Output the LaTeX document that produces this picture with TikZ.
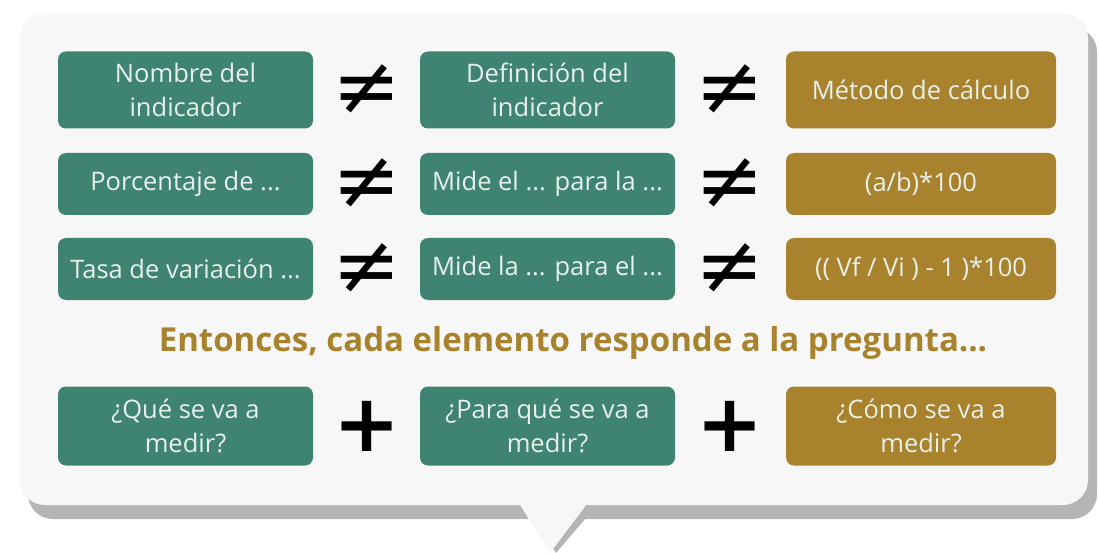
\documentclass[tikz,border=0pt]{standalone}
\usepackage{fontspec}
\setmainfont{Open Sans}
\newfontfamily\simbolos{DejaVu Sans}

\definecolor{verde}{HTML}{3F8373}
\definecolor{ocre}{HTML}{A8822C}
\definecolor{fondo}{HTML}{F7F7F7}
\definecolor{sombra}{HTML}{B5B5B5}
\definecolor{letra}{HTML}{E8F0EA}

\tikzstyle{caja}=[rounded corners=8pt,text=letra,align=center,inner sep=0pt,font=\fontsize{25.5}{34}\selectfont,minimum height=62pt]
\tikzstyle{verdebox}=[caja,fill=verde,minimum width=255pt]
\tikzstyle{ocrebox}=[caja,fill=ocre,minimum width=270pt]
\tikzstyle{distinto}=[font=\simbolos\fontsize{82}{82}\selectfont]
\tikzstyle{mas}=[font=\simbolos\bfseries\fontsize{80}{80}\selectfont]

\begin{document}
\begin{tikzpicture}[x=1pt,y=-1pt]
    \useasboundingbox (0,0) rectangle (1099,553);

    % globo con su sombra
    \fill[sombra,rounded corners=25pt] (28,27) rectangle (1097,519);
    \fill[sombra] (524,505) -- (597,505) -- (556,553) -- cycle;
    \fill[fondo,rounded corners=25pt] (20,13) rectangle (1088,505);
    \fill[fondo] (517,500) -- (590,500) -- (550,553) -- cycle;

    \node (nombre)[verdebox,minimum height=77pt] at (185.5,90) {Nombre del\\indicador};
    \node (definicion)[verdebox,minimum height=77pt] at (547.5,90) {Definición del\\indicador};
    \node (metodo)[ocrebox,minimum height=77pt] at (921,90) {Método de cálculo};

    \node (porcentaje)[verdebox] at (185.5,184) {Porcentaje de ...};
    \node (midea)[verdebox] at (547.5,184) {Mide el ... para la ...};
    \node (formulaa)[ocrebox] at (921,184) {(a/b)*100};

    \node (tasa)[verdebox] at (185.5,269) {Tasa de variación ...};
    \node (mideb)[verdebox] at (547.5,269) {Mide la ... para el ...};
    \node (formulab)[ocrebox] at (921,269) {(( Vf / Vi ) - 1 )*100};

    \node (dif1)[distinto] at (367,90) {≠};
    \node (dif2)[distinto] at (730,90) {≠};
    \node (dif3)[distinto] at (367,184) {≠};
    \node (dif4)[distinto] at (730,184) {≠};
    \node (dif5)[distinto] at (367,269) {≠};
    \node (dif6)[distinto] at (730,269) {≠};

    \node (entonces)[text=ocre,font=\bfseries\fontsize{33}{33}\selectfont] at (573,343) {Entonces, cada elemento responde a la pregunta...};

    \node (que)[verdebox,minimum height=79pt] at (185.5,426) {¿Qué se va a\\medir?};
    \node (paraque)[verdebox,minimum height=79pt] at (547.5,426) {¿Para qué se va a\\medir?};
    \node (como)[ocrebox,minimum height=79pt] at (921,426) {¿Cómo se va a\\medir?};

    \node (mas1)[mas] at (367,426) {+};
    \node (mas2)[mas] at (730,426) {+};
\end{tikzpicture}
\end{document}
